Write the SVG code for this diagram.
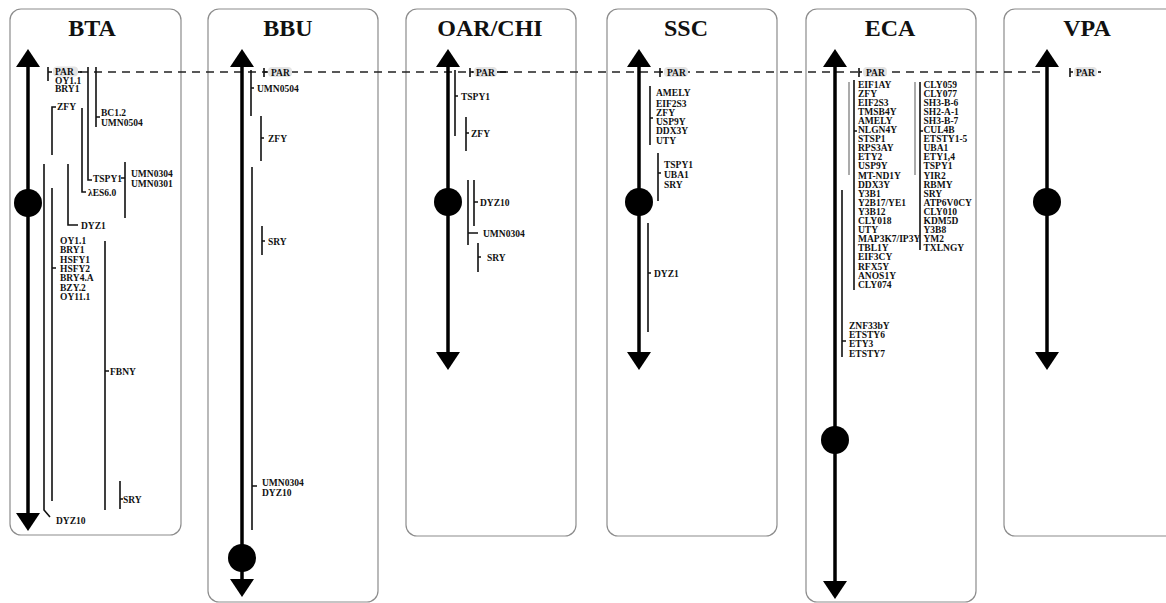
<svg xmlns="http://www.w3.org/2000/svg" width="1166" height="603" viewBox="0 0 1166 603">
<style>
.panel{fill:#fff;stroke:#8c8c8c;stroke-width:1.2}
.title{font-family:"Liberation Serif","Times New Roman",serif;font-weight:bold;font-size:24px;text-anchor:middle;fill:#111}
.axis{stroke:#000;stroke-width:3.5;fill:none}
.br{stroke:#111;stroke-width:1.6;fill:none}
.gr{stroke:#666;stroke-width:1.1;fill:none}
.lb{font-family:"Liberation Serif","Times New Roman",serif;font-weight:bold;font-size:9.5px;fill:#111}
.pill{fill:#e4e4e4}
.dash{stroke:#222;stroke-width:1.3;stroke-dasharray:8 6;fill:none}
</style>
<defs>
<path id="up" d="M-12,0 L12,0 L0,-18 Z" fill="#000"/>
<path id="dn" d="M-12,0 L12,0 L0,18 Z" fill="#000"/>
<circle id="cen" r="14" fill="#000"/>
</defs>

<g id="panels">
<rect class="panel" x="10" y="9" width="171" height="526" rx="11"/>
<rect class="panel" x="208" y="9" width="170" height="593" rx="11"/>
<rect class="panel" x="406" y="9" width="170" height="527" rx="11"/>
<rect class="panel" x="607" y="9" width="170" height="527" rx="11"/>
<rect class="panel" x="806" y="9" width="170" height="593" rx="11"/>
<rect class="panel" x="1004" y="9" width="180" height="527" rx="11"/>
</g>

<g id="connectors">
<path class="dash" d="M80,72 H1047"/>
</g>

<g id="BTA">
<text class="title" x="92" y="36">BTA</text>
<path class="axis" d="M28,66 V514"/>
<use href="#up" x="28" y="67"/>
<use href="#dn" x="28" y="513"/>
<use href="#cen" x="28" y="203"/>
<path class="br" d="M48,67 V81 M48,72 H52"/>
<rect class="pill" x="53" y="66.5" width="25" height="10" rx="4"/>
<path class="br" d="M78,72 H82"/>
<text class="lb" x="55" y="75">PAR</text>
<text class="lb" x="55" y="83.5">OY1.1</text>
<text class="lb" x="55" y="92">BRY1</text>
<path class="br" d="M88,67 V180 H92"/>
<text class="lb" x="93" y="181.5">TSPY1</text>
<path class="br" d="M96,67 V127 M96,117 H100"/>
<text class="lb" x="101" y="115.5">BC1.2</text>
<text class="lb" x="101" y="125.5">UMN0504</text>
<path class="br" d="M82,108 V192 H86"/>
<text class="lb" x="88" y="195.5">λES6.0</text>
<path class="br" d="M56,107 H52 V155"/>
<text class="lb" x="57" y="109.5">ZFY</text>
<path class="br" d="M125,162 V218 M121,178 H125"/>
<text class="lb" x="131" y="176.5">UMN0304</text>
<text class="lb" x="131" y="186.5">UMN0301</text>
<path class="br" d="M68,164 V225 H78"/>
<text class="lb" x="81" y="228.5">DYZ1</text>
<path class="br" d="M44,164 V510 L50,517"/>
<text class="lb" x="56" y="523.5">DYZ10</text>
<path class="br" d="M52,188 V501 M52,268 H56"/>
<text class="lb" x="60" y="243.5">OY1.1</text>
<text class="lb" x="60" y="253">BRY1</text>
<text class="lb" x="60" y="262.5">HSFY1</text>
<text class="lb" x="60" y="271.5">HSFY2</text>
<text class="lb" x="60" y="281">BRY4.A</text>
<text class="lb" x="60" y="290.5">BZY.2</text>
<text class="lb" x="60" y="299.5">OY11.1</text>
<path class="br" d="M105,241 V510 M105,371 H109"/>
<text class="lb" x="110" y="374.5">FBNY</text>
<path class="br" d="M120,481 V509 M120,499 H123"/>
<text class="lb" x="123" y="502.5">SRY</text>
</g>

<g id="BBU">
<text class="title" x="288" y="36">BBU</text>
<path class="axis" d="M242,66 V580"/>
<use href="#up" x="242" y="67"/>
<use href="#dn" x="242" y="579"/>
<use href="#cen" x="242" y="558"/>
<path class="br" d="M264,68 V77 M264,72 H267"/>
<rect class="pill" x="268" y="67" width="24" height="10" rx="4"/>
<text class="lb" x="271" y="75.5">PAR</text>
<path class="br" d="M251,70 V116 M251,88 H254"/>
<text class="lb" x="257" y="91.5">UMN0504</text>
<path class="br" d="M261,116 V161 M261,138 H264"/>
<text class="lb" x="268" y="141.5">ZFY</text>
<path class="br" d="M262,226 V255 M262,241 H265"/>
<text class="lb" x="268" y="244.5">SRY</text>
<path class="br" d="M252,167 V530 M252,486 H257"/>
<text class="lb" x="262" y="485.5">UMN0304</text>
<text class="lb" x="262" y="495.5">DYZ10</text>
</g>

<g id="OAR_CHI">
<text class="title" x="490" y="36">OAR/CHI</text>
<path class="axis" d="M448,66 V353"/>
<use href="#up" x="448" y="67"/>
<use href="#dn" x="448" y="352"/>
<use href="#cen" x="448" y="202"/>
<path class="br" d="M470,68 V77 M470,72 H473"/>
<rect class="pill" x="474" y="67" width="23" height="10" rx="4"/>
<text class="lb" x="476" y="75.5">PAR</text>
<path class="br" d="M497,72 H506"/>
<path class="br" d="M455,70 V136 M455,96 H458"/>
<text class="lb" x="461" y="99.5">TSPY1</text>
<path class="br" d="M466,117 V151 M466,133 H469"/>
<text class="lb" x="471" y="136.5">ZFY</text>
<path class="br" d="M474,180 V226 M474,202 H478"/>
<text class="lb" x="480" y="205.5">DYZ10</text>
<path class="br" d="M468,180 V245 M468,233 H478"/>
<text class="lb" x="483" y="237">UMN0304</text>
<path class="br" d="M478,243 V272 M478,257 H481"/>
<text class="lb" x="487" y="260.5">SRY</text>
</g>

<g id="SSC">
<text class="title" x="686" y="36">SSC</text>
<path class="axis" d="M639,66 V353"/>
<use href="#up" x="639" y="67"/>
<use href="#dn" x="639" y="352"/>
<use href="#cen" x="639" y="202"/>
<path class="br" d="M660,68 V77 M660,72 H663"/>
<rect class="pill" x="664" y="67" width="24" height="10" rx="4"/>
<text class="lb" x="667" y="75.5">PAR</text>
<path class="br" d="M650,86 V145 M650,118 H653"/>
<text class="lb" x="656" y="96">AMELY</text>
<text class="lb" x="656" y="106.5">EIF2S3</text>
<text class="lb" x="656" y="115.5">ZFY</text>
<text class="lb" x="656" y="124.5">USP9Y</text>
<text class="lb" x="656" y="134">DDX3Y</text>
<text class="lb" x="656" y="144">UTY</text>
<path class="br" d="M658,153 V201 M658,173 H661"/>
<text class="lb" x="664" y="167.5">TSPY1</text>
<text class="lb" x="664" y="177.5">UBA1</text>
<text class="lb" x="664" y="187.5">SRY</text>
<path class="br" d="M648,223 V332 M648,273 H651"/>
<text class="lb" x="654" y="276.5">DYZ1</text>
</g>

<g id="ECA">
<text class="title" x="890" y="36">ECA</text>
<path class="axis" d="M835,66 V582"/>
<use href="#up" x="835" y="67"/>
<use href="#dn" x="835" y="581"/>
<use href="#cen" x="835" y="440"/>
<path class="br" d="M859,68 V77 M859,72 H862"/>
<rect class="pill" x="863" y="67" width="24" height="10" rx="4"/>
<text class="lb" x="866" y="75.5">PAR</text>
<path class="gr" d="M849,82 V175"/>
<path class="br" d="M854,80 V290 M854,131 H857"/>
<text class="lb" x="858" y="87.5">EIF1AY</text>
<text class="lb" x="858" y="96.6">ZFY</text>
<text class="lb" x="858" y="105.7">EIF2S3</text>
<text class="lb" x="858" y="114.8">TMSB4Y</text>
<text class="lb" x="858" y="123.9">AMELY</text>
<text class="lb" x="858" y="133">NLGN4Y</text>
<text class="lb" x="858" y="142.1">STSP1</text>
<text class="lb" x="858" y="151.2">RPS3AY</text>
<text class="lb" x="858" y="160.3">ETY2</text>
<text class="lb" x="858" y="169.4">USP9Y</text>
<text class="lb" x="858" y="178.5">MT-ND1Y</text>
<text class="lb" x="858" y="187.6">DDX3Y</text>
<text class="lb" x="858" y="196.7">Y3B1</text>
<text class="lb" x="858" y="205.8">Y2B17/YE1</text>
<text class="lb" x="858" y="214.9">Y3B12</text>
<text class="lb" x="858" y="224">CLY018</text>
<text class="lb" x="858" y="233.1">UTY</text>
<text class="lb" x="858" y="242.2">MAP3K7/IP3Y</text>
<text class="lb" x="858" y="251.3">TBL1Y</text>
<text class="lb" x="858" y="260.4">EIF3CY</text>
<text class="lb" x="858" y="269.5">RFX5Y</text>
<text class="lb" x="858" y="278.6">ANOS1Y</text>
<text class="lb" x="858" y="287.7">CLY074</text>
<path class="gr" d="M915,82 V175"/>
<path class="br" d="M920,82 V250 M920,131 H923"/>
<text class="lb" x="923.5" y="87.5">CLY059</text>
<text class="lb" x="923.5" y="96.6">CLY077</text>
<text class="lb" x="923.5" y="105.7">SH3-B-6</text>
<text class="lb" x="923.5" y="114.8">SH2-A-1</text>
<text class="lb" x="923.5" y="123.9">SH3-B-7</text>
<text class="lb" x="923.5" y="133">CUL4B</text>
<text class="lb" x="923.5" y="142.1">ETSTY1-5</text>
<text class="lb" x="923.5" y="151.2">UBA1</text>
<text class="lb" x="923.5" y="160.3">ETY1,4</text>
<text class="lb" x="923.5" y="169.4">TSPY1</text>
<text class="lb" x="923.5" y="178.5">YIR2</text>
<text class="lb" x="923.5" y="187.6">RBMY</text>
<text class="lb" x="923.5" y="196.7">SRY</text>
<text class="lb" x="923.5" y="205.8">ATP6V0CY</text>
<text class="lb" x="923.5" y="214.9">CLY010</text>
<text class="lb" x="923.5" y="224">KDM5D</text>
<text class="lb" x="923.5" y="233.1">Y3B8</text>
<text class="lb" x="923.5" y="242.2">YM2</text>
<text class="lb" x="923.5" y="251.3">TXLNGY</text>
<path class="br" d="M842,190 V357 M842,341 H846"/>
<text class="lb" x="849" y="329">ZNF33bY</text>
<text class="lb" x="849" y="338.3">ETSTY6</text>
<text class="lb" x="849" y="347.4">ETY3</text>
<text class="lb" x="849" y="356.5">ETSTY7</text>
</g>

<g id="VPA">
<text class="title" x="1087" y="36">VPA</text>
<path class="axis" d="M1047,66 V353"/>
<use href="#up" x="1047" y="67"/>
<use href="#dn" x="1047" y="352"/>
<use href="#cen" x="1047" y="202"/>
<path class="br" d="M1070,68 V77 M1070,72 H1073"/>
<rect class="pill" x="1074" y="67" width="23" height="10" rx="4"/>
<text class="lb" x="1076" y="75.5">PAR</text>
<path class="br" d="M1098,72 H1101"/>
</g>
</svg>
